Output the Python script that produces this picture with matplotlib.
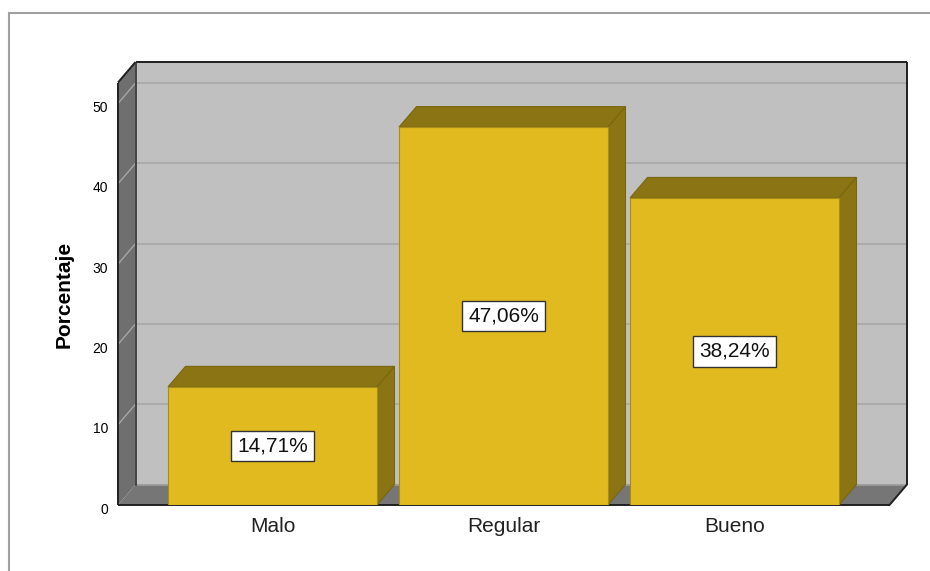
import matplotlib
matplotlib.use('Agg')
import matplotlib.pyplot as plt
from matplotlib.patches import Polygon
from matplotlib.lines import Line2D
from matplotlib.transforms import ScaledTranslation

# --- data ---
cats = ['Malo', 'Regular', 'Bueno']
vals = [14.71, 47.06, 38.24]
labels = ['14,71%', '47,06%', '38,24%']
yticks = [0, 10, 20, 30, 40, 50]

plt.rcParams['font.family'] = ['Liberation Sans', 'DejaVu Sans']

W, H = 930, 571
fig = plt.figure(figsize=(W / 100, H / 100), dpi=100)

# axes box in pixels: front-left edge 118, back-right 907, floor 505, wall top 62
ax = fig.add_axes([118 / W, (H - 505) / H, (907 - 118) / W, (505 - 62) / H])
ppx = 231.0          # pixels per category
ppy = 8.03           # pixels per percent
c0 = 272.5           # pixel centre of first category
x0 = (118 - c0) / ppx
xr = (907 - c0) / ppx
ytop = (505 - 62) / ppy
dx = 17.5 / ppx      # depth offset
dy = 20.5 / ppy
x1 = xr - dx
top = ytop - dy
ax.set_xlim(x0, xr)
ax.set_ylim(0, ytop)
ax.patch.set_visible(False)
for s in ax.spines.values():
    s.set_visible(False)

# --- walls ---
wall_back = '#c0c0c0'
wall_side = '#6f6f6f'
floor_c = '#767676'
ax.add_patch(Polygon([(x0 + dx, dy), (xr, dy), (xr, ytop), (x0 + dx, ytop)],
                     closed=True, fc=wall_back, ec='none', zorder=1))
ax.add_patch(Polygon([(x0, 0), (x0, top), (x0 + dx, ytop), (x0 + dx, dy)],
                     closed=True, fc=wall_side, ec='none', zorder=1))
ax.add_patch(Polygon([(x0, 0), (x1, 0), (xr, dy), (x0 + dx, dy)],
                     closed=True, fc=floor_c, ec='none', zorder=1))

# gridlines
for t in yticks[1:]:
    ax.plot([x0 + dx, xr], [t + dy, t + dy], color='#a9a9a9', lw=1.3, zorder=2)
    ax.plot([x0, x0 + dx], [t, t + dy], color='#a5a5a5', lw=1.0, zorder=2)
ax.plot([x0 + dx, xr], [dy, dy], color='#a0a0a0', lw=1.2, zorder=2)

# wall edges
edge = dict(color='#202020', lw=1.4, zorder=3, solid_capstyle='butt', clip_on=False)
ax.plot([x0, x0], [0, top], **edge)
ax.plot([x0, x0 + dx], [top, ytop], **edge)
ax.plot([x0 + dx, xr], [ytop, ytop], **edge)
ax.plot([xr, xr], [ytop, dy], **edge)
ax.plot([x0 + dx, x0 + dx], [dy, ytop], color='#303030', lw=1.2, zorder=3)
ax.plot([x0, x1], [0, 0], **edge)
ax.plot([x1, xr], [0, dy], **edge)

# --- bars ---
front_c = '#e0ba1e'
dark_c = '#8a7413'
bw = 209 / ppx
xs = list(range(len(cats)))
ax.bar(xs, vals, width=bw, color=front_c, edgecolor='#a88e18', lw=0.8, zorder=5)
for x, v, lab in zip(xs, vals, labels):
    l, r = x - bw / 2, x + bw / 2
    ax.add_patch(Polygon([(l, v), (r, v), (r + dx, v + dy), (l + dx, v + dy)],
                         closed=True, fc=dark_c, ec='#7a6610', lw=0.8, zorder=4))
    ax.add_patch(Polygon([(r, 0), (r + dx, dy), (r + dx, v + dy), (r, v)],
                         closed=True, fc=dark_c, ec='#7a6610', lw=0.8, zorder=4))
    ax.text(x, v / 2, lab, ha='center', va='center', fontsize=15, color='#111111',
            zorder=6, bbox=dict(boxstyle='square,pad=0.28', fc='white', ec='#333333', lw=1.0))

# --- axes text ---
ax.set_yticks(yticks)
ax.set_yticklabels([str(t) for t in yticks], fontsize=10)
ax.set_xticks(xs)
ax.set_xticklabels(cats, fontsize=15, color='#222222')
ax.tick_params(axis='y', length=0, pad=7)
ax.tick_params(axis='x', length=0, pad=9)
shift = ScaledTranslation(0, -3 / 100, fig.dpi_scale_trans)
for tl in ax.get_yticklabels():
    tl.set_transform(tl.get_transform() + shift)

fig.text(64 / W, 1 - 294 / H, 'Porcentaje', rotation=90, ha='center', va='center',
         fontsize=15, fontweight='bold')

# outer frame
fig.add_artist(Line2D([9 / W, 9 / W], [0, 1 - 13 / H], transform=fig.transFigure,
                      color='#a0a0a0', lw=1.5))
fig.add_artist(Line2D([9 / W, 1], [1 - 13 / H, 1 - 13 / H], transform=fig.transFigure,
                      color='#a0a0a0', lw=1.5))

fig.savefig('out.png', dpi=100)
